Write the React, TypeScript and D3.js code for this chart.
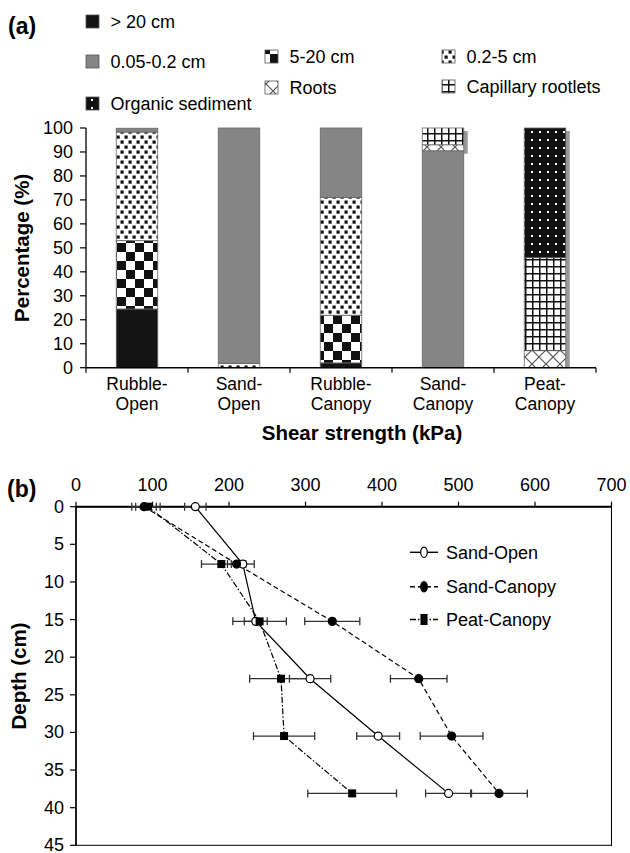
import React from 'react';
import * as d3 from 'd3';

// ---------- Panel (a) data ----------
const categories = ['Rubble-Open', 'Sand-Open', 'Rubble-Canopy', 'Sand-Canopy', 'Peat-Canopy'];
const categoryLabels = [['Rubble-', 'Open'], ['Sand-', 'Open'], ['Rubble-', 'Canopy'], ['Sand-', 'Canopy'], ['Peat-', 'Canopy']];
const classKeys = ['gt20', 's5_20', 's02_5', 's005_02', 'roots', 'capillary', 'organic'];
const classLabels = ['> 20 cm', '5-20 cm', '0.2-5 cm', '0.05-0.2 cm', 'Roots', 'Capillary rootlets', 'Organic sediment'];
const gt20 = [24.5, 0, 2, 0, 0];
const s5to20 = [28.5, 0, 19.9, 0, 0];
const s02to5 = [45.3, 1.8, 49.2, 0, 0];
const s005to02 = [1.6, 98.2, 28.9, 90.5, 0];
const roots = [0, 0, 0, 2.5, 7.1];
const capillary = [0, 0, 0, 7, 38.8];
const organic = [0, 0, 0, 0, 54.1];
const percentTicks = [0, 10, 20, 30, 40, 50, 60, 70, 80, 90, 100];

// ---------- Panel (b) data ----------
const depths = [0, 7.62, 15.24, 22.86, 30.48, 38.1];
const sandOpen = [156, 218, 235, 306, 395, 487];
const sandOpenErr = [14, 15, 15, 27, 28, 30];
const sandCanopy = [89, 210, 335, 448, 491, 553];
const sandCanopyErr = [16, 12, 36, 37, 41, 37];
const peatCanopy = [94, 190, 240, 268, 272, 361];
const peatCanopyErr = [16, 26, 35, 41, 40, 58];
const seriesNames = ['Sand-Open', 'Sand-Canopy', 'Peat-Canopy'];
const shearTicks = [0, 100, 200, 300, 400, 500, 600, 700];
const depthTicks = [0, 5, 10, 15, 20, 25, 30, 35, 40, 45];

const FONT = "'Liberation Sans', Arial, Helvetica, sans-serif";

const fills: Record<string, string> = {
  gt20: '#141414',
  s5_20: 'url(#pChecker)',
  s02_5: 'url(#pDots)',
  s005_02: '#858585',
  roots: 'url(#pRoots)',
  capillary: 'url(#pGrid)',
  organic: 'url(#pOrganic)',
};

export default function App() {
  // ---- panel a scales ----
  const xA = d3.scaleBand<string>().domain(categories).range([86, 596]).paddingInner(0.593).paddingOuter(0.2965);
  const yA = d3.scaleLinear().domain([0, 100]).range([367.7, 128]);
  const rows = categories.map((c, i) => ({
    cat: c,
    gt20: gt20[i], s5_20: s5to20[i], s02_5: s02to5[i], s005_02: s005to02[i],
    roots: roots[i], capillary: capillary[i], organic: organic[i],
  }));
  const stack = d3.stack<any>().keys(classKeys)(rows);
  const step = xA.step();
  const bandEdges = d3.range(categories.length + 1).map((i) => xA.range()[0] + i * step);

  // shadows for bars with patterned plant segments
  const shadowKeys = ['roots', 'capillary', 'organic'];
  const shadows = categories.map((c, i) => {
    const segs = stack.filter((s) => shadowKeys.includes(s.key)).map((s) => s[i]).filter((d) => d[1] - d[0] > 0);
    if (!segs.length) return null;
    const lo = d3.min(segs, (d) => d[0]) as number;
    const hi = d3.max(segs, (d) => d[1]) as number;
    return { cat: c, lo, hi };
  }).filter(Boolean) as { cat: string; lo: number; hi: number }[];

  const legendA = [
    { k: 'gt20', x: 86, y: 15 },
    { k: 's005_02', x: 86, y: 55 },
    { k: 's5_20', x: 265, y: 50 },
    { k: 's02_5', x: 442, y: 50 },
    { k: 'roots', x: 265, y: 81 },
    { k: 'capillary', x: 442, y: 80 },
    { k: 'organic', x: 86, y: 97 },
  ];

  // ---- panel b scales ----
  const xB = d3.scaleLinear().domain([0, 700]).range([76, 611.5]);
  const yB = d3.scaleLinear().domain([0, 45]).range([506.7, 845.3]);
  const bSeries = [
    { name: seriesNames[0], vals: sandOpen, err: sandOpenErr, dash: '', marker: 'openCircle' },
    { name: seriesNames[1], vals: sandCanopy, err: sandCanopyErr, dash: '5,3', marker: 'circle' },
    { name: seriesNames[2], vals: peatCanopy, err: peatCanopyErr, dash: '6,2,1.5,2', marker: 'square' },
  ];
  const line = d3.line<number>().x((v) => xB(v)).y((_, i) => yB(depths[i]));
  const legendBY = [552.3, 586.7, 619.5];

  const marker = (type: string, cx: number, cy: number, key: string, legend = false) => {
    if (type === 'square') {
      const w = legend ? 7 : 8, h = legend ? 11 : 8;
      return <rect key={key} x={cx - w / 2} y={cy - h / 2} width={w} height={h} fill="#000" />;
    }
    const rx = legend ? 3.3 : 4, ry = legend ? 5.2 : 4;
    return <ellipse key={key} cx={cx} cy={cy} rx={rx} ry={ry} fill={type === 'openCircle' ? '#fff' : '#000'} stroke="#000" strokeWidth={1.2} />;
  };

  return (
    <svg width={630} height={853} style={{ position: 'absolute', left: 0, top: 0, background: '#fff' }} fontFamily={FONT}>
      <defs>
        <pattern id="pChecker" width={18} height={18} patternUnits="userSpaceOnUse">
          <rect width={18} height={18} fill="#fff" />
          <rect x={0} y={0} width={9} height={9} fill="#111" />
          <rect x={9} y={9} width={9} height={9} fill="#111" />
        </pattern>
        <pattern id="pDots" width={8} height={10} patternUnits="userSpaceOnUse">
          <rect width={8} height={10} fill="#fff" />
          <rect x={0.5} y={0.5} width={3.2} height={3.2} fill="#111" />
          <rect x={4.5} y={5.5} width={3.2} height={3.2} fill="#111" />
        </pattern>
        <pattern id="pRoots" width={14} height={14} patternUnits="userSpaceOnUse">
          <rect width={14} height={14} fill="#fff" />
          <path d="M0,0L14,14M14,0L0,14" stroke="#555" strokeWidth={1.2} />
        </pattern>
        <pattern id="pGrid" width={7} height={7} patternUnits="userSpaceOnUse">
          <rect width={7} height={7} fill="#fff" />
          <path d="M0,0.75H7M0.75,0V7" stroke="#111" strokeWidth={1.5} />
        </pattern>
        <pattern id="pOrganic" width={8} height={8} patternUnits="userSpaceOnUse">
          <rect width={8} height={8} fill="#111" />
          <rect x={3} y={3} width={2} height={2} fill="#fff" />
        </pattern>
      </defs>

      {/* ---------------- Panel (a) ---------------- */}
      <text x={8} y={34} fontSize={23} fontWeight="bold">(a)</text>
      {legendA.map((l) => {
        const idx = classKeys.indexOf(l.k);
        return (
          <g key={l.k}>
            <rect x={l.x} y={l.y} width={13} height={13} fill={fills[l.k]} stroke="#555" strokeWidth={0.8} />
            <text x={l.x + 24.5} y={l.y + 13} fontSize={18}>{classLabels[idx]}</text>
          </g>
        );
      })}

      {shadows.map((s) => (
        <rect key={'sh' + s.cat} x={(xA(s.cat) as number) + 4} y={yA(s.hi) + 3}
          width={xA.bandwidth()} height={Math.min(yA(s.lo) + 3, yA(0)) - (yA(s.hi) + 3)} fill="#9a9a9a" />
      ))}
      {stack.map((s) => (
        <g key={s.key}>
          {s.map((d, i) => (d[1] - d[0] > 0 ? (
            <rect key={i} x={xA(categories[i]) as number} y={yA(d[1])} width={xA.bandwidth()}
              height={yA(d[0]) - yA(d[1])} fill={fills[s.key]} stroke="#666" strokeWidth={0.8} />
          ) : null))}
        </g>
      ))}

      {/* y axis */}
      <line x1={86} x2={86} y1={yA(100)} y2={yA(0)} stroke="#000" strokeWidth={1.3} />
      {percentTicks.map((t) => (
        <g key={t}>
          <line x1={80} x2={86} y1={yA(t)} y2={yA(t)} stroke="#000" strokeWidth={1.2} />
          <text x={73} y={yA(t) + 6.3} fontSize={18} textAnchor="end">{t}</text>
        </g>
      ))}
      {/* x axis */}
      <line x1={bandEdges[0]} x2={bandEdges[bandEdges.length - 1]} y1={yA(0)} y2={yA(0)} stroke="#000" strokeWidth={1.5} />
      {bandEdges.map((e, i) => (
        <line key={i} x1={e} x2={e} y1={yA(0)} y2={yA(0) + 5} stroke="#000" strokeWidth={1.2} />
      ))}
      {categories.map((c, i) => (
        <text key={c} x={(xA(c) as number) + xA.bandwidth() / 2} fontSize={17.5} textAnchor="middle">
          <tspan x={(xA(c) as number) + xA.bandwidth() / 2} y={390}>{categoryLabels[i][0]}</tspan>
          <tspan x={(xA(c) as number) + xA.bandwidth() / 2} y={409.5}>{categoryLabels[i][1]}</tspan>
        </text>
      ))}
      <text x={362} y={440} fontSize={20.5} fontWeight="bold" textAnchor="middle">Shear strength (kPa)</text>
      <text transform={`translate(29,${(yA(0) + yA(100)) / 2}) rotate(-90)`} fontSize={20.5} fontWeight="bold" textAnchor="middle">Percentage (%)</text>

      {/* ---------------- Panel (b) ---------------- */}
      <text x={7} y={497} fontSize={23} fontWeight="bold">(b)</text>
      <rect x={xB(0)} y={yB(0)} width={xB(700) - xB(0)} height={yB(45) - yB(0)} fill="none" stroke="#000" strokeWidth={1} />
      <line x1={xB(0)} x2={xB(700)} y1={yB(0)} y2={yB(0)} stroke="#000" strokeWidth={2} />
      <line x1={xB(0)} x2={xB(0)} y1={yB(0)} y2={yB(45)} stroke="#000" strokeWidth={1.5} />
      {shearTicks.map((t) => (
        <g key={t}>
          <line x1={xB(t)} x2={xB(t)} y1={yB(0) - 5} y2={yB(0)} stroke="#000" strokeWidth={1.2} />
          <text x={xB(t)} y={491} fontSize={18} textAnchor="middle">{t}</text>
        </g>
      ))}
      {depthTicks.map((t) => (
        <g key={t}>
          <line x1={xB(0) - 6} x2={xB(0)} y1={yB(t)} y2={yB(t)} stroke="#000" strokeWidth={1.2} />
          <text x={64} y={yB(t) + 6} fontSize={18} textAnchor="end">{t}</text>
        </g>
      ))}
      <text transform={`translate(26,${(yB(0) + yB(45)) / 2}) rotate(-90)`} fontSize={20.5} fontWeight="bold" textAnchor="middle">Depth (cm)</text>

      {bSeries.map((s) => (
        <path key={'l' + s.name} d={line(s.vals) as string} fill="none" stroke="#000" strokeWidth={1.2} strokeDasharray={s.dash || undefined} />
      ))}
      {bSeries.map((s) => (
        <g key={'e' + s.name} stroke="#333" strokeWidth={1.3}>
          {s.vals.map((v, i) => {
            const y = yB(depths[i]);
            const x1 = xB(v - s.err[i]);
            const x2 = xB(v + s.err[i]);
            return (
              <g key={i}>
                <line x1={x1} x2={x2} y1={y} y2={y} />
                <line x1={x1} x2={x1} y1={y - 4} y2={y + 4} />
                <line x1={x2} x2={x2} y1={y - 4} y2={y + 4} />
              </g>
            );
          })}
        </g>
      ))}
      {bSeries.map((s) => (
        <g key={'m' + s.name}>
          {s.vals.map((v, i) => marker(s.marker, xB(v), yB(depths[i]), s.name + i))}
        </g>
      ))}

      {bSeries.map((s, i) => (
        <g key={'lg' + s.name}>
          <line x1={410} x2={438} y1={legendBY[i]} y2={legendBY[i]} stroke="#000" strokeWidth={1.4} strokeDasharray={s.dash || undefined} />
          {marker(s.marker, 424, legendBY[i], 'lgm' + i, true)}
          <text x={446} y={legendBY[i] + 6.5} fontSize={18}>{s.name}</text>
        </g>
      ))}
    </svg>
  );
}
